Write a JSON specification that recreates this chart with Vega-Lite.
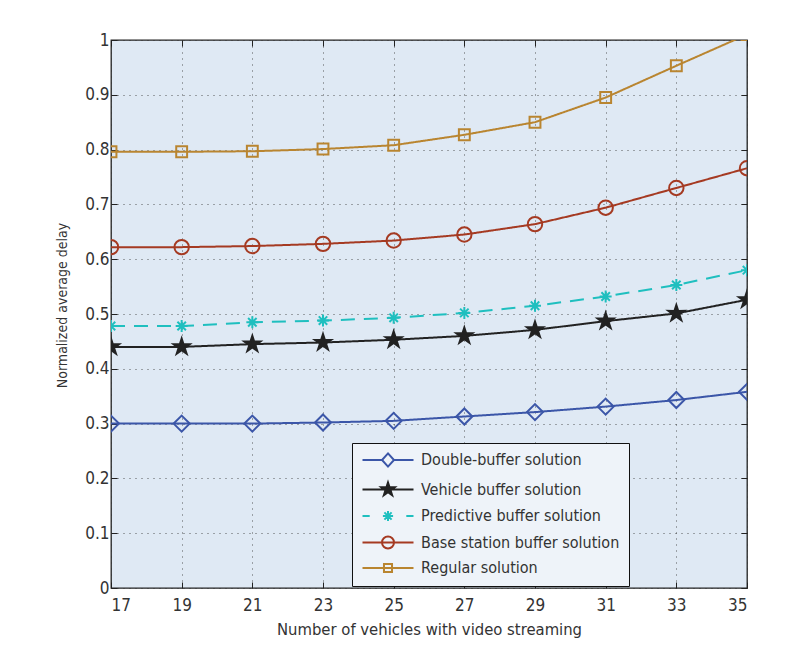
{
  "$schema": "https://vega.github.io/schema/vega-lite/v6.json",
  "width": 636,
  "height": 548,
  "autosize": {"type": "none"},
  "padding": {"left": 111, "top": 40, "right": 40, "bottom": 67},
  "background": "white",
  "config": {
    "view": {"fill": "#dfe9f4", "stroke": "#222222", "strokeWidth": 1.3},
    "font": "Liberation Sans Narrow, DejaVu Sans Condensed, sans-serif",
    "axis": {
      "labelFontSize": 17,
      "labelColor": "#333333",
      "titleFontSize": 16.5,
      "titleFontWeight": "normal",
      "titleColor": "#333333",
      "domain": false,
      "tickColor": "#222222",
      "tickSize": -6,
      "gridColor": "#333333",
      "gridDash": [1, 5],
      "gridOpacity": 0.8,
      "gridWidth": 1
    }
  },
  "data": {
    "values": [
      {"n": 17, "series": "Double-buffer solution", "delay": 0.300},
      {"n": 19, "series": "Double-buffer solution", "delay": 0.300},
      {"n": 21, "series": "Double-buffer solution", "delay": 0.300},
      {"n": 23, "series": "Double-buffer solution", "delay": 0.302},
      {"n": 25, "series": "Double-buffer solution", "delay": 0.305},
      {"n": 27, "series": "Double-buffer solution", "delay": 0.313},
      {"n": 29, "series": "Double-buffer solution", "delay": 0.321},
      {"n": 31, "series": "Double-buffer solution", "delay": 0.331},
      {"n": 33, "series": "Double-buffer solution", "delay": 0.343},
      {"n": 35, "series": "Double-buffer solution", "delay": 0.358},
      {"n": 17, "series": "Vehicle buffer solution", "delay": 0.440},
      {"n": 19, "series": "Vehicle buffer solution", "delay": 0.440},
      {"n": 21, "series": "Vehicle buffer solution", "delay": 0.445},
      {"n": 23, "series": "Vehicle buffer solution", "delay": 0.448},
      {"n": 25, "series": "Vehicle buffer solution", "delay": 0.453},
      {"n": 27, "series": "Vehicle buffer solution", "delay": 0.460},
      {"n": 29, "series": "Vehicle buffer solution", "delay": 0.471},
      {"n": 31, "series": "Vehicle buffer solution", "delay": 0.487},
      {"n": 33, "series": "Vehicle buffer solution", "delay": 0.501},
      {"n": 35, "series": "Vehicle buffer solution", "delay": 0.526},
      {"n": 17, "series": "Predictive buffer solution", "delay": 0.478},
      {"n": 19, "series": "Predictive buffer solution", "delay": 0.478},
      {"n": 21, "series": "Predictive buffer solution", "delay": 0.485},
      {"n": 23, "series": "Predictive buffer solution", "delay": 0.488},
      {"n": 25, "series": "Predictive buffer solution", "delay": 0.493},
      {"n": 27, "series": "Predictive buffer solution", "delay": 0.502},
      {"n": 29, "series": "Predictive buffer solution", "delay": 0.515},
      {"n": 31, "series": "Predictive buffer solution", "delay": 0.532},
      {"n": 33, "series": "Predictive buffer solution", "delay": 0.553},
      {"n": 35, "series": "Predictive buffer solution", "delay": 0.580},
      {"n": 17, "series": "Base station buffer solution", "delay": 0.622},
      {"n": 19, "series": "Base station buffer solution", "delay": 0.622},
      {"n": 21, "series": "Base station buffer solution", "delay": 0.624},
      {"n": 23, "series": "Base station buffer solution", "delay": 0.628},
      {"n": 25, "series": "Base station buffer solution", "delay": 0.634},
      {"n": 27, "series": "Base station buffer solution", "delay": 0.645},
      {"n": 29, "series": "Base station buffer solution", "delay": 0.664},
      {"n": 31, "series": "Base station buffer solution", "delay": 0.694},
      {"n": 33, "series": "Base station buffer solution", "delay": 0.730},
      {"n": 35, "series": "Base station buffer solution", "delay": 0.766},
      {"n": 17, "series": "Regular solution", "delay": 0.796},
      {"n": 19, "series": "Regular solution", "delay": 0.796},
      {"n": 21, "series": "Regular solution", "delay": 0.797},
      {"n": 23, "series": "Regular solution", "delay": 0.801},
      {"n": 25, "series": "Regular solution", "delay": 0.808},
      {"n": 27, "series": "Regular solution", "delay": 0.827},
      {"n": 29, "series": "Regular solution", "delay": 0.850},
      {"n": 31, "series": "Regular solution", "delay": 0.895},
      {"n": 33, "series": "Regular solution", "delay": 0.953},
      {"n": 35, "series": "Regular solution", "delay": 1.01}
    ]
  },
  "layer": [
    {
      "mark": {"type": "line", "strokeWidth": 2, "clip": true},
      "encoding": {
        "x": {
          "field": "n", "type": "quantitative",
          "scale": {"domain": [17, 35], "nice": false, "zero": false},
          "axis": {
            "orient": "bottom",
            "title": "Number of vehicles with video streaming",
            "values": [17, 19, 21, 23, 25, 27, 29, 31, 33, 35],
            "labelPadding": 15,
            "titlePadding": 8,
            "grid": true
          }
        },
        "y": {
          "field": "delay", "type": "quantitative",
          "scale": {"domain": [0, 1], "nice": false, "zero": true},
          "axis": {
            "orient": "left",
            "title": "Normalized average delay",
            "titleFontSize": 14,
            "values": [0, 0.1, 0.2, 0.3, 0.4, 0.5, 0.6, 0.7, 0.8, 0.9, 1],
            "format": ".1~f",
            "labelPadding": 8,
            "titlePadding": 15,
            "titleY": 265,
            "grid": true
          }
        },
        "color": {
          "field": "series", "type": "nominal",
          "scale": {
            "domain": ["Double-buffer solution", "Vehicle buffer solution", "Predictive buffer solution", "Base station buffer solution", "Regular solution"],
            "range": ["#3b56a8", "#222222", "#1fbfbf", "#a53a22", "#b98530"]
          },
          "legend": {
            "orient": "none",
            "legendX": 241,
            "legendY": 403,
            "title": null,
            "symbolSize": 144,
            "symbolStrokeWidth": 2,
            "symbolOffset": 19,
            "labelOffset": 25,
            "padding": 9,
            "rowPadding": 6.5,
            "strokeColor": "#111111",
            "fillColor": "#eef3f9",
            "labelFontSize": 16,
            "labelColor": "#333333",
            "labelLimit": 400,
            "encode": {
              "symbols": {
                "update": {
                  "shape": {"signal": "datum.value === 'Double-buffer solution' ? 'M-4.25,0L-1,0M1,0L4.25,0M0,-1.1L1,0L0,1.1L-1,0Z' : datum.value === 'Vehicle buffer solution' ? 'M-4.25,0L4.25,0M0,-1.17L0.264,-0.364L1.113,-0.362L0.428,0.139L0.688,0.947L0,0.45L-0.688,0.947L-0.428,0.139L-1.113,-0.362L-0.264,-0.364Z' : datum.value === 'Predictive buffer solution' ? 'M-4.25,0L-3.05,0M3.05,0L4.25,0M0,-0.85L0,0.85M-0.85,0L0.85,0M-0.6,-0.6L0.6,0.6M-0.6,0.6L0.6,-0.6' : datum.value === 'Base station buffer solution' ? 'M-4.25,0L4.25,0M1,0A1,1 0 1,1 -1,0A1,1 0 1,1 1,0Z' : 'M-4.25,0L4.25,0M-0.67,-0.67L0.67,-0.67L0.67,0.67L-0.67,0.67Z'"}
                }
              }
            }
          }
        },
        "strokeDash": {
          "field": "series", "type": "nominal",
          "scale": {
            "domain": ["Regular solution", "Base station buffer solution", "Predictive buffer solution", "Vehicle buffer solution", "Double-buffer solution"],
            "range": [[1, 0], [1, 0], [14, 9], [1, 0], [1, 0]]
          },
          "legend": null
        }
      }
    },
    {
      "mark": {"type": "point", "filled": false, "strokeWidth": 2, "size": 256, "opacity": 1, "clip": true},
      "encoding": {
        "x": {
          "field": "n", "type": "quantitative",
          "axis": {
            "orient": "top", "title": null, "labels": false, "grid": false,
            "values": [17, 19, 21, 23, 25, 27, 29, 31, 33, 35]
          }
        },
        "y": {
          "field": "delay", "type": "quantitative",
          "axis": {
            "orient": "right", "title": null, "labels": false, "grid": false,
            "values": [0, 0.1, 0.2, 0.3, 0.4, 0.5, 0.6, 0.7, 0.8, 0.9, 1]
          }
        },
        "color": {"field": "series", "type": "nominal", "legend": null},
        "fill": {
          "field": "series", "type": "nominal",
          "scale": {
            "domain": ["Double-buffer solution", "Vehicle buffer solution", "Predictive buffer solution", "Base station buffer solution", "Regular solution"],
            "range": ["transparent", "#222222", "transparent", "transparent", "transparent"]
          },
          "legend": null
        },
        "shape": {
          "field": "series", "type": "nominal",
          "scale": {
            "domain": ["Regular solution", "Base station buffer solution", "Predictive buffer solution", "Vehicle buffer solution", "Double-buffer solution"],
            "range": [
              "M-0.68,-0.68L0.68,-0.68L0.68,0.68L-0.68,0.68Z",
              "M0.9,0A0.9,0.9 0 1,1 -0.9,0A0.9,0.9 0 1,1 0.9,0Z",
              "M0,-0.75L0,0.75M-0.75,0L0.75,0M-0.53,-0.53L0.53,0.53M-0.53,0.53L0.53,-0.53",
              "M0,-1.05L0.234,-0.322L0.999,-0.324L0.379,0.123L0.617,0.849L0,0.4L-0.617,0.849L-0.379,0.123L-0.999,-0.324L-0.234,-0.322Z",
              "M0,-1L1,0L0,1L-1,0Z"
            ]
          },
          "legend": null
        }
      }
    }
  ],
  "resolve": {"axis": {"x": "independent", "y": "independent"}}
}
